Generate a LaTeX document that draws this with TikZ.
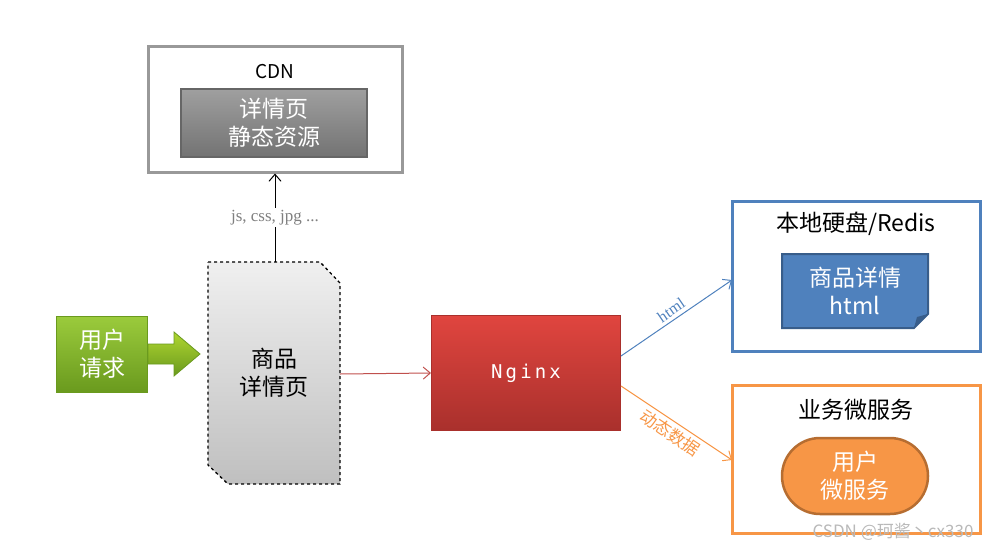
\documentclass[tikz,border=0pt]{standalone}
\usepackage{fontspec}
\setmainfont{Noto Sans CJK SC}
\newfontfamily\monof{DejaVu Sans Mono}
\newfontfamily\serf{Liberation Serif}
\usetikzlibrary{arrows.meta,shapes.misc}
\definecolor{bl}{HTML}{4F81BD}
\definecolor{bld}{HTML}{385D8A}
\definecolor{og}{HTML}{F79646}
\definecolor{ogd}{HTML}{B66D31}
\definecolor{rd}{HTML}{C0504D}
\definecolor{rtop}{HTML}{E0453F}
\definecolor{rbot}{HTML}{A9302C}
\definecolor{gtop}{HTML}{9BCB3C}
\definecolor{gbot}{HTML}{6A9A1E}
\begin{document}
\begin{tikzpicture}[x=1pt,y=-1pt,
  txt/.style={font=\fontsize{23}{28}\selectfont,align=center,inner sep=0pt},
  wt/.style={txt,text=white},
  con/.style={-{Straight Barb[length=7pt,width=12pt]},line width=1pt}]
\useasboundingbox (0,0) rectangle (1001,552);
% CDN
\node[draw=gray!80,line width=3pt,minimum width=254,minimum height=126,inner sep=0] (cdn) at (275,109) {};
\node[txt,font=\fontsize{19}{22}\selectfont] (cdnt) at (275,72) {CDN};
\node[draw=black!60,line width=2pt,top color=gray!75,bottom color=black!55,minimum width=186,minimum height=68,wt] (cdni) at (274,123) {详情页\\静态资源};
% user
\node[draw=gbot,line width=1pt,top color=gtop,bottom color=gbot,minimum width=91,minimum height=76,wt] (user) at (102,354) {用户\\请求};
\draw[draw=gbot,top color=gtop!80!yellow,bottom color=gbot,line width=0.8pt] (148,344) -- (174,344) -- (174,332) -- (200,354) -- (174,376) -- (174,364) -- (148,364) -- cycle;
% doc
\draw[dashed,line width=1.3pt,top color=gray!12,bottom color=gray!50] (208,262) -- (320,262) -- (340,283) -- (340,484) -- (228,484) -- (208,465) -- cycle;
\node[txt,minimum width=132,minimum height=222] (doc) at (274,373) {商品\\详情页};
\coordinate (dtop) at (275,262);
\draw[con] (dtop) -- (cdn.south) node[midway,fill=white,inner sep=2pt,text=gray,font=\serf\fontsize{17}{20}\selectfont] (lab) {js, css, jpg ...};
% nginx
\node[draw=rbot,line width=1pt,top color=rtop,bottom color=rbot,minimum width=189,minimum height=115,text=white,font=\monof\fontsize{19}{22}\selectfont] (ng) at (526,373) {N\,g\,i\,n\,x};
\draw[con,draw=rd] (340,374) -- (ng.west);
% blue
\node[draw=bl,line width=3pt,minimum width=248,minimum height=150,inner sep=0] (bb) at (856,276) {};
\node[txt] at (856,224) {本地硬盘/Redis};
\draw[draw=bld,line width=2pt,fill=bl] (782,254) -- (928,254) -- (928,314) -- (914,328) -- (782,328) -- cycle;
\fill[bld] (928,314) -- (914,328) -- (917,317) -- cycle;
\node[wt] (bi) at (855,291) {商品详情\\html};
% orange
\node[draw=og,line width=3pt,minimum width=248,minimum height=148,inner sep=0] (ob) at (856,459) {};
\node[txt] at (856,410) {业务微服务};
\node[draw=ogd,line width=2.5pt,fill=og,rounded rectangle,minimum width=146,minimum height=76,wt] (oi) at (855,476) {用户\\微服务};
% connectors
\coordinate (n1) at (621,356);
\coordinate (n2) at (621,386);
\coordinate (b1) at (732,280);
\coordinate (o1) at (732,460);
\draw[con,draw=bl] (n1) -- (b1) node[midway,sloped,above,text=bl,font=\serf\fontsize{16}{18}\selectfont] (hl) {html};
\draw[con,draw=og] (n2) -- (o1) node[midway,sloped,below,text=og,font=\fontsize{17}{20}\selectfont] (dl) {动态数据};
\node[text=gray!55,font=\fontsize{17}{20}\selectfont] (wm) at (893,532) {CSDN @珂酱丶cx330};
\end{tikzpicture}
\end{document}
